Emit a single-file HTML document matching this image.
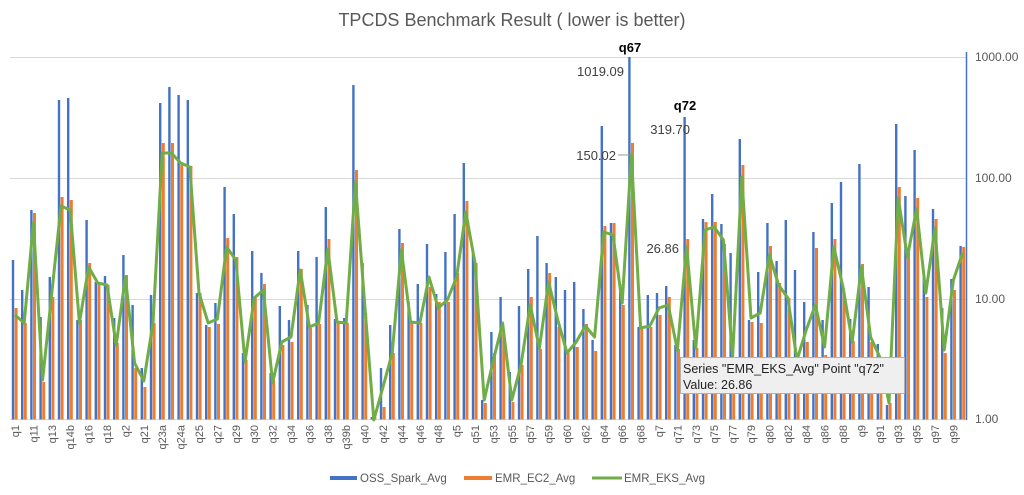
<!DOCTYPE html>
<html><head><meta charset="utf-8"><style>
body{margin:0;background:#fff;width:1024px;height:490px;overflow:hidden;font-family:"Liberation Sans",sans-serif}
svg text{font-family:"Liberation Sans",sans-serif}
</style></head><body>
<svg id="c" width="1024" height="490" xmlns="http://www.w3.org/2000/svg">
<text x="512" y="26" text-anchor="middle" font-size="18" fill="#595959">TPCDS Benchmark Result ( lower is better)</text>
<g stroke="#d9d9d9" stroke-width="1">
<line x1="10" y1="57.5" x2="966" y2="57.5"/><line x1="10" y1="178.5" x2="966" y2="178.5"/><line x1="10" y1="299.5" x2="966" y2="299.5"/><line x1="10" y1="419.5" x2="966" y2="419.5"/>
</g>
<g id="bars"></g>
<polyline id="gl" fill="none" stroke="#70ad47" stroke-width="3" stroke-linejoin="round"/>
<line x1="966.5" y1="52" x2="966.5" y2="420" stroke="#4472c4" stroke-width="1.5"/>
<g font-size="12" fill="#595959">
<text x="975" y="61">1000.00</text><text x="975" y="182">100.00</text><text x="975" y="303">10.00</text><text x="975" y="423">1.00</text>
</g>
<g font-size="13" fill="#404040">
<text x="630" y="52" text-anchor="middle" font-weight="bold" fill="#000">q67</text>
<text x="624" y="76" text-anchor="end">1019.09</text>
<text x="616" y="160" text-anchor="end">150.02</text>
<line x1="618" y1="155" x2="630" y2="155" stroke="#999"/>
<text x="685" y="110" text-anchor="middle" font-weight="bold" fill="#000">q72</text>
<text x="690" y="134" text-anchor="end">319.70</text>
<text x="679" y="253" text-anchor="end">26.86</text>
</g>
<g id="xl" font-size="11" fill="#595959"></g>
<rect x="680.5" y="357.5" width="224" height="36" fill="#efefef" stroke="#b0b0b0"/>
<text x="683" y="373" font-size="12.5" fill="#222">Series "EMR_EKS_Avg" Point "q72"</text>
<text x="683" y="389" font-size="12.5" fill="#222">Value: 26.86</text>
<rect x="330" y="476" width="27" height="4" fill="#4472c4"/>
<text x="360" y="482" font-size="11.5" fill="#595959">OSS_Spark_Avg</text>
<rect x="464" y="476" width="28" height="4" fill="#ed7d31"/>
<text x="495" y="482" font-size="11.5" fill="#595959">EMR_EC2_Avg</text>
<line x1="592" y1="478" x2="622" y2="478" stroke="#70ad47" stroke-width="3"/>
<text x="624" y="482" font-size="11.5" fill="#595959">EMR_EKS_Avg</text>
<g font-size="11" fill="#595959">
<text transform="translate(19,425) rotate(-90)" text-anchor="end">q1</text>
<text transform="translate(37.4,425) rotate(-90)" text-anchor="end">q11</text>
<text transform="translate(55.8,425) rotate(-90)" text-anchor="end">q13</text>
<text transform="translate(74.2,425) rotate(-90)" text-anchor="end">q14b</text>
<text transform="translate(92.6,425) rotate(-90)" text-anchor="end">q16</text>
<text transform="translate(111,425) rotate(-90)" text-anchor="end">q18</text>
<text transform="translate(129.4,425) rotate(-90)" text-anchor="end">q2</text>
<text transform="translate(147.8,425) rotate(-90)" text-anchor="end">q21</text>
<text transform="translate(166.2,425) rotate(-90)" text-anchor="end">q23a</text>
<text transform="translate(184.6,425) rotate(-90)" text-anchor="end">q24a</text>
<text transform="translate(203,425) rotate(-90)" text-anchor="end">q25</text>
<text transform="translate(221.4,425) rotate(-90)" text-anchor="end">q27</text>
<text transform="translate(239.8,425) rotate(-90)" text-anchor="end">q29</text>
<text transform="translate(258.2,425) rotate(-90)" text-anchor="end">q30</text>
<text transform="translate(276.6,425) rotate(-90)" text-anchor="end">q32</text>
<text transform="translate(295,425) rotate(-90)" text-anchor="end">q34</text>
<text transform="translate(313.4,425) rotate(-90)" text-anchor="end">q36</text>
<text transform="translate(331.8,425) rotate(-90)" text-anchor="end">q38</text>
<text transform="translate(350.2,425) rotate(-90)" text-anchor="end">q39b</text>
<text transform="translate(368.6,425) rotate(-90)" text-anchor="end">q40</text>
<text transform="translate(387,425) rotate(-90)" text-anchor="end">q42</text>
<text transform="translate(405.4,425) rotate(-90)" text-anchor="end">q44</text>
<text transform="translate(423.8,425) rotate(-90)" text-anchor="end">q46</text>
<text transform="translate(442.2,425) rotate(-90)" text-anchor="end">q48</text>
<text transform="translate(460.6,425) rotate(-90)" text-anchor="end">q5</text>
<text transform="translate(479,425) rotate(-90)" text-anchor="end">q51</text>
<text transform="translate(497.4,425) rotate(-90)" text-anchor="end">q53</text>
<text transform="translate(515.8,425) rotate(-90)" text-anchor="end">q55</text>
<text transform="translate(534.2,425) rotate(-90)" text-anchor="end">q57</text>
<text transform="translate(552.6,425) rotate(-90)" text-anchor="end">q59</text>
<text transform="translate(571,425) rotate(-90)" text-anchor="end">q60</text>
<text transform="translate(589.4,425) rotate(-90)" text-anchor="end">q62</text>
<text transform="translate(607.8,425) rotate(-90)" text-anchor="end">q64</text>
<text transform="translate(626.2,425) rotate(-90)" text-anchor="end">q66</text>
<text transform="translate(644.6,425) rotate(-90)" text-anchor="end">q68</text>
<text transform="translate(663,425) rotate(-90)" text-anchor="end">q7</text>
<text transform="translate(681.4,425) rotate(-90)" text-anchor="end">q71</text>
<text transform="translate(699.8,425) rotate(-90)" text-anchor="end">q73</text>
<text transform="translate(718.2,425) rotate(-90)" text-anchor="end">q75</text>
<text transform="translate(736.6,425) rotate(-90)" text-anchor="end">q77</text>
<text transform="translate(755,425) rotate(-90)" text-anchor="end">q79</text>
<text transform="translate(773.4,425) rotate(-90)" text-anchor="end">q80</text>
<text transform="translate(791.8,425) rotate(-90)" text-anchor="end">q82</text>
<text transform="translate(810.2,425) rotate(-90)" text-anchor="end">q84</text>
<text transform="translate(828.6,425) rotate(-90)" text-anchor="end">q86</text>
<text transform="translate(847,425) rotate(-90)" text-anchor="end">q88</text>
<text transform="translate(865.4,425) rotate(-90)" text-anchor="end">q9</text>
<text transform="translate(883.8,425) rotate(-90)" text-anchor="end">q91</text>
<text transform="translate(902.2,425) rotate(-90)" text-anchor="end">q93</text>
<text transform="translate(920.6,425) rotate(-90)" text-anchor="end">q95</text>
<text transform="translate(939,425) rotate(-90)" text-anchor="end">q97</text>
<text transform="translate(957.4,425) rotate(-90)" text-anchor="end">q99</text>
</g>
</svg>
<script>
var D=[[260,308,315],[290,323,323],[210,213,223],[317,382,380],[277,297,293],[100,197,206],[98,200,210],[320,320,323],[220,263,267],[282,282,283],[276,285,285],[318,343,345],[255,275,277],[305,368,363],[368,387,381],[295,323,323],[103,143,153],[87,143,153],[95,165,163],[100,166,167],[293,293,293],[325,327,323],[303,324,319],[187,238,247],[214,257,260],[353,360,362],[251,298,298],[273,284,290],[373,380,383],[306,345,342],[320,342,337],[251,269,270],[305,328,327],[257,324,323],[207,239,249],[319,323,322],[318,323,323],[85,170,182],[263,313,303],[417,417,420],[368,407,387],[325,353,353],[229,243,250],[302,323,322],[284,323,323],[244,287,277],[294,302,308],[252,302,300],[214,273,277],[163,201,212],[253,263,263],[400,403,400],[332,353,360],[297,333,323],[372,402,400],[306,365,365],[269,297,305],[236,349,348],[263,273,282],[277,327,320],[290,353,353],[282,347,342],[309,324,326],[340,351,337],[126,226,232],[223,223,235],[284,305,303],[57,143,155],[327,328,328],[295,327,326],[293,315,308],[286,297,305],[345,349,350],[117,239,247],[340,348,348],[219,222,230],[194,222,227],[224,244,240],[253,357,357],[139,165,177],[320,322,318],[272,323,313],[223,246,255],[261,283,285],[220,298,298],[270,360,360],[302,342,330],[232,248,305],[320,355,347],[203,239,247],[182,292,287],[319,341,342],[164,264,267],[287,342,337],[344,358,357],[405,403,403],[124,187,198],[196,253,257],[150,198,209],[275,297,293],[209,219,228],[308,353,350],[279,290,280],[246,247,253]];
var ns="http://www.w3.org/2000/svg",g=document.getElementById("bars"),pts=[];
D.forEach(function(d,k){var c=15+9.2*k;
function r(x,w,y,f){var e=document.createElementNS(ns,"rect");e.setAttribute("x",x);e.setAttribute("width",w);e.setAttribute("y",y);e.setAttribute("height",Math.max(0,419.5-y));e.setAttribute("fill",f);g.appendChild(e);}
r(c-3.2,2.4,d[0],"#4472c4");r(c-0.4,3,d[1],"#ed7d31");pts.push(c.toFixed(1)+","+d[2]);});
document.getElementById("gl").setAttribute("points",pts.join(" "));
</script>
</body></html>
